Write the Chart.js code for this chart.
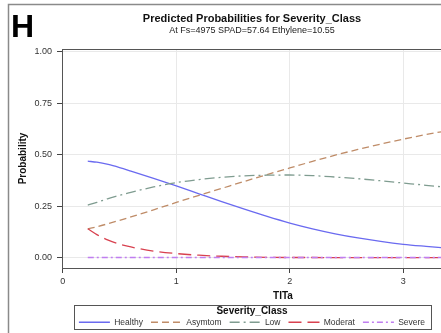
<!DOCTYPE html>
<html>
<head>
<meta charset="utf-8">
<script src="https://cdn.jsdelivr.net/npm/chart.js@4.4.1/dist/chart.umd.min.js"></script>
<style>
  html, body { margin: 0; padding: 0; background: #fff; overflow: hidden; }
  #wrap { position: relative; width: 504px; height: 337px; }
</style>
</head>
<body>
<div id="wrap"><canvas id="c" width="504" height="337"></canvas></div>
<script>
// Predicted probabilities by TITa, at Fs=4975 SPAD=57.64 Ethylene=10.55
const tita     = [0.22, 0.3, 0.4, 0.5, 0.6, 0.8, 1.0, 1.2, 1.4, 1.6, 1.8, 2.0, 2.2, 2.4, 2.6, 2.8, 3.0, 3.2, 3.4];
const healthy  = [0.468, 0.463, 0.452, 0.437, 0.420, 0.385, 0.348, 0.310, 0.272, 0.235, 0.200, 0.168, 0.140, 0.116, 0.096, 0.079, 0.065, 0.055, 0.046];
const asymtom  = [0.140, 0.150, 0.165, 0.181, 0.198, 0.232, 0.268, 0.302, 0.336, 0.370, 0.403, 0.435, 0.467, 0.497, 0.525, 0.551, 0.575, 0.597, 0.617];
const low      = [0.255, 0.268, 0.287, 0.302, 0.317, 0.343, 0.364, 0.379, 0.390, 0.397, 0.400, 0.401, 0.398, 0.391, 0.383, 0.373, 0.362, 0.351, 0.340];
const moderat  = [0.140, 0.112, 0.085, 0.066, 0.052, 0.032, 0.020, 0.012, 0.007, 0.004, 0.002, 0.001, 0.001, 0, 0, 0, 0, 0, 0];
const severe   = [0.001, 0.001, 0.001, 0.001, 0.001, 0.001, 0.001, 0.001, 0.001, 0.001, 0.001, 0.001, 0.001, 0.001, 0.001, 0.001, 0.001, 0.001, 0.001];

const classNames = ['Healthy', 'Asymtom', 'Low', 'Moderat', 'Severe'];
const xTicks = [0, 1, 2, 3];
const yTicks = [0, 0.25, 0.5, 0.75, 1];

const FONT = "'Liberation Sans', Arial, sans-serif";
Chart.defaults.font.family = FONT;
Chart.defaults.color = '#333';

const styles = [
  { color: '#6a6af0', dash: [] },
  { color: '#bf8c68', dash: [7, 4] },
  { color: '#7f9c90', dash: [10, 4, 2, 4] },
  { color: '#d8414f', dash: [13, 6] },
  { color: '#c07ef0', dash: [6, 3, 2, 3] }
];
const series = [healthy, asymtom, low, moderat, severe];

const datasets = series.map((vals, i) => ({
  label: classNames[i],
  data: tita.map((x, k) => ({ x: x, y: vals[k] })),
  borderColor: styles[i].color,
  backgroundColor: styles[i].color,
  borderDash: styles[i].dash,
  borderWidth: 1.3,
  pointRadius: 0,
  pointHoverRadius: 0,
  fill: false,
  cubicInterpolationMode: 'monotone',
  order: 4 - i
}));

// Outer frame, panel letter, plot border and legend box
const decorations = {
  id: 'decorations',
  beforeDraw(chart) {
    const ctx = chart.ctx;
    ctx.save();
    ctx.fillStyle = '#fff';
    ctx.fillRect(0, 0, chart.width, chart.height);
    ctx.restore();
  },
  afterDraw(chart) {
    const ctx = chart.ctx;
    const a = chart.chartArea;
    ctx.save();
    // outer frame
    ctx.strokeStyle = '#8a8a8a';
    ctx.lineWidth = 1.5;
    ctx.strokeRect(8.5, 4.5, 700, 700);
    // panel letter
    ctx.fillStyle = '#000';
    ctx.font = 'bold 32px ' + FONT;
    ctx.textBaseline = 'alphabetic';
    ctx.textAlign = 'left';
    ctx.fillText('H', 11, 37);
    // plot area border
    ctx.strokeStyle = '#555';
    ctx.lineWidth = 1;
    ctx.strokeRect(Math.round(a.left) + 0.5, Math.round(a.top) + 0.5,
                   Math.round(a.right - a.left), Math.round(a.bottom - a.top));
    // legend border
    const lg = chart.legend;
    if (lg && lg.legendHitBoxes && lg.legendHitBoxes.length) {
      const hb = lg.legendHitBoxes;
      const l = Math.min(...hb.map(h => h.left)) - 5;
      const r = Math.max(...hb.map(h => h.left + h.width)) + 6;
      const b = Math.max(...hb.map(h => h.top + h.height)) + 2;
      const t = lg.top + 1;
      ctx.strokeStyle = '#555';
      ctx.lineWidth = 1;
      ctx.strokeRect(Math.round(l) + 0.5, Math.round(t) + 0.5, Math.round(r - l), Math.round(b - t));
    }
    ctx.restore();
  }
};

new Chart(document.getElementById('c'), {
  type: 'line',
  data: { datasets: datasets },
  options: {
    responsive: false,
    animation: false,
    events: [],
    layout: { padding: { left: 0, right: 0, top: 0, bottom: 0.5 } },
    plugins: {
      title: {
        display: true,
        text: 'Predicted Probabilities for Severity_Class',
        color: '#111',
        font: { size: 11, weight: 'bold' },
        padding: { top: 12, bottom: 0 }
      },
      subtitle: {
        display: true,
        text: 'At Fs=4975 SPAD=57.64 Ethylene=10.55',
        color: '#222',
        font: { size: 9 },
        padding: { top: 0, bottom: 13 }
      },
      legend: {
        display: true,
        position: 'bottom',
        title: {
          display: true,
          text: 'Severity_Class',
          color: '#111',
          font: { size: 10, weight: 'bold' },
          padding: { top: 2, bottom: -8 }
        },
        labels: {
          usePointStyle: true,
          pointStyle: 'line',
          pointStyleWidth: 31,
          boxHeight: 8,
          padding: 8,
          color: '#333',
          font: { size: 8.5 },
          sort: (a, b) => a.datasetIndex - b.datasetIndex,
          generateLabels(chart) {
            return chart.data.datasets.map((ds, i) => ({
              text: ds.label,
              datasetIndex: i,
              fillStyle: ds.borderColor,
              strokeStyle: ds.borderColor,
              lineWidth: ds.borderWidth,
              lineDash: ds.borderDash,
              lineCap: 'butt',
              pointStyle: 'line',
              hidden: false,
              fontColor: '#333'
            }));
          }
        }
      },
      tooltip: { enabled: false }
    },
    scales: {
      x: {
        type: 'linear',
        min: -0.007,
        max: 3.887,
        afterFit(s) { s.height = 36; },
        afterBuildTicks(s) { s.ticks = xTicks.map(v => ({ value: v })); },
        ticks: {
          callback: v => String(v),
          font: { size: 9 },
          color: '#333',
          padding: 3,
          maxRotation: 0
        },
        grid: { color: '#e9e9e9', tickColor: '#444', tickLength: 5, drawTicks: true },
        border: { display: false },
        title: {
          display: true,
          text: 'TITa',
          color: '#111',
          font: { size: 10, weight: 'bold' },
          padding: { top: 0, bottom: 2 }
        }
      },
      y: {
        type: 'linear',
        min: -0.05,
        max: 1.012,
        afterFit(s) { s.width = 62; },
        afterBuildTicks(s) { s.ticks = yTicks.map(v => ({ value: v })); },
        ticks: {
          callback: v => Number(v).toFixed(2),
          font: { size: 9 },
          color: '#333',
          padding: 5
        },
        grid: { color: '#e9e9e9', tickColor: '#444', tickLength: 5, drawTicks: true },
        border: { display: false },
        title: {
          display: true,
          text: 'Probability',
          color: '#111',
          font: { size: 10, weight: 'bold' },
          padding: { top: 17, bottom: 0 }
        }
      }
    }
  },
  plugins: [decorations]
});
</script>
</body>
</html>
